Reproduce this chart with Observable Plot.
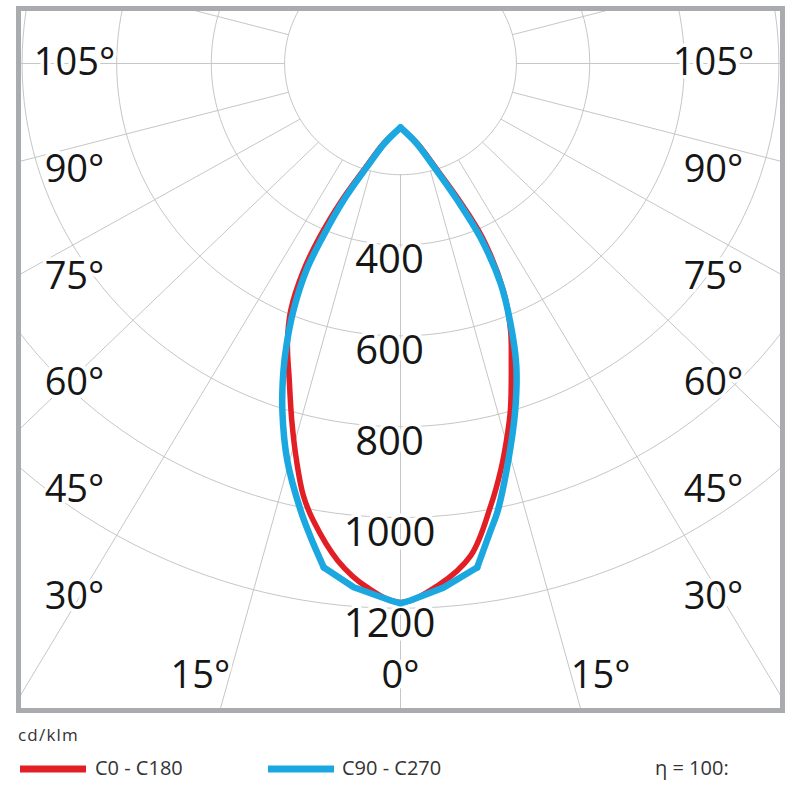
<!DOCTYPE html>
<html>
<head>
<meta charset="utf-8">
<script src="https://cdn.jsdelivr.net/npm/d3@7"></script>
<script src="https://cdn.jsdelivr.net/npm/@observablehq/plot@0.6"></script>
<style>
  body { margin: 0; background: #fff; font-family: "Open Sans", sans-serif; }
  #chart svg { display: block; }
</style>
</head>
<body>
<div id="chart"></div>
<script>
// ---- Data (angles in degrees from nadir, negative = left half; values in cd/klm) ----
const c0Angles  = [0, -11.5, -17.9, -22.4, -24.1, -24.2, -23.1, -21.2, -18.6, -16.3, -14.1, -12.2, -10.4, -6.9, -3.5, 0,
                   3.9, 7.8, 11.1, 13.3, 15.1, 16.9, 19.7, 21.6, 23.5, 24.3, 22.4, 17.9, 11.5, 0];
const c0Values  = [141, 180, 241, 327, 420, 500, 592, 661, 737, 819, 902, 973, 1023, 1103, 1156, 1187,
                   1153, 1094, 992, 921, 860, 799, 695, 632, 545, 421, 327, 241, 180, 141];
const c90Angles = [0, -10.9, -17.4, -21.8, -23.3, -23.6, -22.6, -21.3, -20.1, -18.1, -15.3, -12.1, -10.3, -8.3, -4.9, -1, 0,
                   1, 4.5, 8.3, 10.5, 11.8, 14.6, 17.6, 20.2, 22.1, 23.6, 23.8, 21.8, 17.4, 10.9, 0];
const c90Values = [141, 179, 240, 325, 417, 497, 589, 662, 720, 804, 907, 1007, 1061, 1122, 1158, 1183, 1189,
                   1183, 1158, 1122, 1046, 1006, 904, 802, 709, 618, 529, 419, 325, 240, 179, 141];
// indices in the C90 series where the drawn polygon has sharp corners
const c90Corners = [13, 19];

const ringValues   = [400, 600, 800, 1000, 1200];
const ringLabels   = ["400", "600", "800", "1000", "1200"];
const innerRing    = 245;
const spokeAngles  = d3.range(-180, 181, 15);
const sideLabels   = ["105°", "90°", "75°", "60°", "45°", "30°"];
const bottomLabels = ["15°", "0°", "15°"];
const bottomLabelX = [-423, 0, 423];
const seriesNames  = ["C0 - C180", "C90 - C270"];
const seriesColors = ["#e31f26", "#1ba8e0"];

// ---- helpers ----
const rad = Math.PI / 180;
const polar = (a, v) => ({x: v * Math.sin(a * rad), y: v * Math.cos(a * rad)});

const c0Pts  = c0Angles.map((a, i) => polar(a, c0Values[i]));
const c90All = c90Angles.map((a, i) => polar(a, c90Values[i]));
// smooth flanks (two segments) and straight bottom for C90
const [k1, k2] = c90Corners;
const c90Smooth = [
  ...c90All.slice(0, k1 + 1).map(p => ({...p, seg: "L"})),
  ...c90All.slice(k2).map(p => ({...p, seg: "R"}))
];
const c90Bottom = c90All.slice(k1, k2 + 1);

const ringPts = [innerRing, ...ringValues].flatMap(v =>
  d3.range(0, 361, 2).map(a => ({ring: v, ...polar(a, v)})));
const spokes = spokeAngles.map(a => {
  const p1 = polar(a, innerRing), p2 = polar(a, 4000);
  return {x1: p1.x, y1: p1.y, x2: p2.x, y2: p2.y};
});
const sideRows = sideLabels.map((t, i) => ({text: t, y: -1 + 235 * i}));
const bottomRows = bottomLabels.map((t, i) => ({text: t, x: bottomLabelX[i], y: 1348}));
const ringRows = ringValues.map((v, i) => ({text: ringLabels[i], y: v}));

const grid = "#c6c6c6";
const ink = "#161616";
const halo = {stroke: "white", strokeWidth: 7, paintOrder: "stroke", strokeLinejoin: "round"};

const chart = Plot.plot({
  width: 800,
  height: 713,
  marginLeft: 18,
  marginRight: 18,
  marginTop: 8,
  marginBottom: 3,
  x: {domain: [-807.6, 807.6], axis: null},
  y: {domain: [1425.1, -121.1], axis: null},
  style: {fontFamily: "'Open Sans', sans-serif", background: "white"},
  marks: [
    Plot.line(ringPts, {x: "x", y: "y", z: "ring", stroke: grid, strokeWidth: 1, clip: true}),
    Plot.link(spokes, {x1: "x1", y1: "y1", x2: "x2", y2: "y2", stroke: grid, strokeWidth: 1, clip: true}),
    Plot.text(ringRows, {x: 0, y: "y", text: "text", dx: -11, lineAnchor: "top", textAnchor: "middle",
      fontSize: 40, fill: ink, ...halo}),
    Plot.text(sideRows, {frameAnchor: "left", y: "y", text: "text", dx: 56, textAnchor: "middle", lineAnchor: "middle",
      fontSize: 38, fill: ink, ...halo}),
    Plot.text(sideRows, {frameAnchor: "right", y: "y", text: "text", dx: -69, textAnchor: "middle", lineAnchor: "middle",
      fontSize: 38, fill: ink, ...halo}),
    Plot.text(bottomRows, {x: "x", y: "y", text: "text", textAnchor: "middle", lineAnchor: "middle",
      fontSize: 38, fill: ink, ...halo}),
    Plot.line(c0Pts, {x: "x", y: "y", stroke: seriesColors[0], strokeWidth: 5.5, curve: "catmull-rom",
      strokeLinejoin: "round", strokeLinecap: "round", clip: true}),
    Plot.line(c90Smooth, {x: "x", y: "y", z: "seg", stroke: seriesColors[1], strokeWidth: 6.5, curve: "catmull-rom",
      strokeLinejoin: "round", strokeLinecap: "round", clip: true}),
    Plot.line(c90Bottom, {x: "x", y: "y", stroke: seriesColors[1], strokeWidth: 6.5,
      strokeLinejoin: "round", strokeLinecap: "round", clip: true}),
    Plot.frame({stroke: "#a9abae", strokeWidth: 5})
  ]
});
document.getElementById("chart").append(chart);

// ---- legend below the chart ----
const leg = d3.create("svg").attr("width", 800).attr("height", 87)
  .style("display", "block").style("font-family", "'Open Sans', sans-serif");
leg.append("text").attr("x", 18).attr("y", 28).attr("font-size", 17).attr("letter-spacing", 1.2)
  .attr("fill", "#333").text("cd/klm");
const items = [{x: 20, tx: 95}, {x: 268, tx: 342}];
items.forEach((it, i) => {
  leg.append("line").attr("x1", it.x).attr("x2", it.x + 66).attr("y1", 56).attr("y2", 56)
    .attr("stroke", seriesColors[i]).attr("stroke-width", 7);
  leg.append("text").attr("x", it.tx).attr("y", 62).attr("font-size", 20).attr("fill", "#333").text(seriesNames[i]);
});
leg.append("text").attr("x", 655).attr("y", 62).attr("font-size", 20).attr("fill", "#333").text("η = 100:");
document.getElementById("chart").append(leg.node());
</script>
</body>
</html>
